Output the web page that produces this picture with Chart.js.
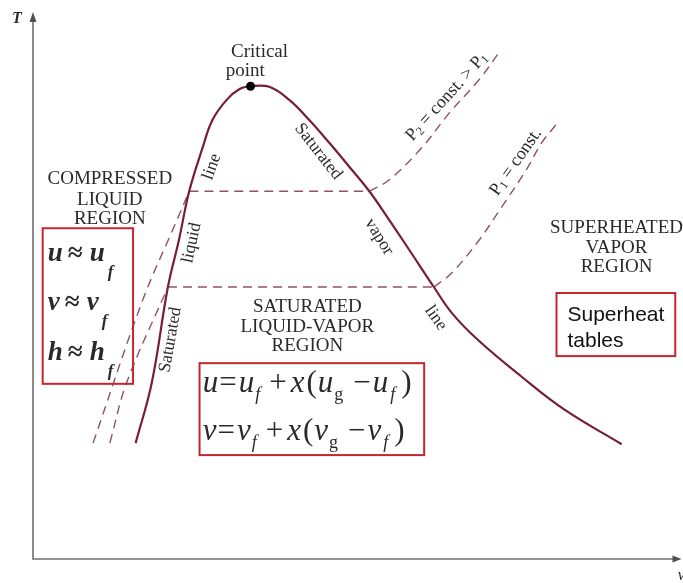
<!DOCTYPE html>
<html>
<head>
<meta charset="utf-8">
<script src="https://cdn.jsdelivr.net/npm/chart.js@4.4.0/dist/chart.umd.min.js"></script>
<style>
  html, body { margin: 0; padding: 0; background: #fff; }
</style>
</head>
<body>
<canvas id="tv" width="683" height="583"></canvas>
<script>
// T-v diagram, values (arbitrary 0-100 units on both axes)
const domeV = [15.9, 18.4, 20.9, 22.6, 24.2, 26.3, 27.8, 30.0, 32.0, 33.7, 36.6, 39.7, 42.8, 45.9, 49.0, 52.1, 55.2, 58.3, 62.1, 64.9, 68.9, 75.7, 82.4, 91.2];
const domeT = [21.3, 32.4, 50.0, 58.6, 67.6, 75.7, 80.7, 84.4, 86.4, 86.9, 86.8, 84.4, 80.7, 76.5, 72.1, 67.6, 62.3, 56.8, 50.0, 45.2, 40.3, 33.5, 27.4, 21.1];
const criticalV = [33.7];
const criticalT = [86.9];

// P2 = const. isobar (compressed liquid branch, superheated branch)
const p2LiqV = [9.3, 17.0, 22.3, 24.2];
const p2LiqT = [21.3, 47.6, 62.3, 67.6];
const p2VapV = [52.1, 55.2, 60.3, 64.5, 69.1, 72.5];
const p2VapT = [67.6, 69.7, 75.7, 82.0, 88.1, 93.6];

// P1 = const. isobar
const p1LiqV = [11.9, 14.5, 20.9];
const p1LiqT = [21.3, 32.4, 50.0];
const p1VapV = [62.1, 64.9, 69.1, 72.6, 76.4, 78.8, 81.0];
const p1VapT = [50.0, 52.6, 58.6, 64.7, 71.5, 76.5, 79.8];

const SERIF = '"Liberation Serif", "Times New Roman", serif';
const SANS = '"Liberation Sans", Arial, sans-serif';
const domeColor = '#761d3d';
const dashColor = '#92506a';
const boxColor = '#c4262e';
const textColor = '#2a2a2a';

const pts = (v, t) => v.map((x, i) => ({ x: x, y: t[i] }));

function dashed(data) {
  return {
    data: data, showLine: true, pointRadius: 0, borderColor: dashColor,
    borderWidth: 1.4, borderDash: [9, 6], tension: 0.35
  };
}

// rich text: [text, style, gap] with i = italic, r = roman, f = italic sub, g = roman sub
function fontFor(st, size, bold, subSize) {
  const sub = st === 'f' || st === 'g';
  const ital = st === 'i' || st === 'f';
  const s = sub ? subSize : size;
  return (ital ? 'italic ' : '') + (bold ? 'bold ' : '') + s + 'px ' + SERIF;
}
function richWidth(ctx, segs, size, bold, subSize) {
  let w = 0;
  segs.forEach(([t, st, gap]) => { ctx.font = fontFor(st, size, bold, subSize); w += (gap || 0) + ctx.measureText(t).width; });
  return w;
}
function drawRich(ctx, segs, x, y, size, bold, subSize, subDrop) {
  segs.forEach(([t, st, gap]) => {
    ctx.font = fontFor(st, size, bold, subSize);
    x += gap || 0;
    const dy = (st === 'f' || st === 'g') ? subDrop : 0;
    ctx.fillText(t, x, y + dy);
    x += ctx.measureText(t).width;
  });
}

const plainLabels = [
  { t: 'Critical', x: 35.1, y: 92.3 },
  { t: 'point', x: 32.9, y: 88.8 },
  { t: 'COMPRESSED', x: 11.9, y: 68.9 },
  { t: 'LIQUID', x: 11.9, y: 65.1 },
  { t: 'REGION', x: 11.9, y: 61.6 },
  { t: 'SATURATED', x: 42.5, y: 45.4 },
  { t: 'LIQUID-VAPOR', x: 42.5, y: 41.7 },
  { t: 'REGION', x: 42.5, y: 38.2 },
  { t: 'SUPERHEATED', x: 90.4, y: 59.9 },
  { t: 'VAPOR', x: 90.4, y: 56.25 },
  { t: 'REGION', x: 90.4, y: 52.8 }
];
const curveLabels = [
  { t: 'line', x: 27.7, y: 72.1, a: -70 },
  { t: 'liquid', x: 24.6, y: 58.1, a: -78 },
  { t: 'Saturated', x: 21.3, y: 40.3, a: -80 },
  { t: 'Saturated', x: 44.2, y: 74.9, a: 52 },
  { t: 'vapor', x: 53.6, y: 59.2, a: 58 },
  { t: 'line', x: 62.4, y: 44.3, a: 55 }
];
const isobarLabels = [
  { segs: [['P', 'r'], ['2', 'g'], [' = const. > ', 'r'], ['P', 'r'], ['1', 'g']], x: 64.1, y: 85.0, a: -48 },
  { segs: [['P', 'r'], ['1', 'g'], [' = const.', 'r']], x: 74.8, y: 73.0, a: -55 }
];

const decor = {
  id: 'decor',
  beforeDatasetsDraw(chart) {
    const { ctx, chartArea: ca } = chart;
    ctx.save();
    ctx.strokeStyle = '#707070';
    ctx.fillStyle = '#505050';
    ctx.lineWidth = 1.6;
    ctx.beginPath();
    ctx.moveTo(ca.left, ca.top + 4);
    ctx.lineTo(ca.left, ca.bottom);
    ctx.lineTo(ca.right - 2, ca.bottom);
    ctx.stroke();
    ctx.beginPath();
    ctx.moveTo(ca.left, ca.top - 3);
    ctx.lineTo(ca.left - 3.5, ca.top + 7);
    ctx.lineTo(ca.left + 3.5, ca.top + 7);
    ctx.closePath();
    ctx.fill();
    ctx.beginPath();
    ctx.moveTo(ca.right + 3, ca.bottom);
    ctx.lineTo(ca.right - 6, ca.bottom - 3.5);
    ctx.lineTo(ca.right - 6, ca.bottom + 3.5);
    ctx.closePath();
    ctx.fill();
    ctx.restore();
  },
  afterDatasetsDraw(chart) {
    const { ctx } = chart;
    const xs = chart.scales.x, ys = chart.scales.y;
    const X = v => xs.getPixelForValue(v), Y = v => ys.getPixelForValue(v);
    ctx.save();
    ctx.fillStyle = textColor;

    // axis letters
    ctx.textAlign = 'center';
    ctx.textBaseline = 'alphabetic';
    ctx.font = 'italic bold 16px ' + SERIF;
    ctx.fillText('T', X(-2.5), Y(98.5));
    ctx.textAlign = 'left';
    ctx.font = 'italic 16px ' + SERIF;
    ctx.fillText('v', X(99.9), Y(-3.8));

    // region names
    ctx.textAlign = 'center';
    ctx.font = '19px ' + SERIF;
    plainLabels.forEach(l => ctx.fillText(l.t, X(l.x), Y(l.y)));

    // labels along the curves
    ctx.textBaseline = 'middle';
    ctx.font = '17.5px ' + SERIF;
    curveLabels.forEach(l => {
      ctx.save();
      ctx.translate(X(l.x), Y(l.y));
      ctx.rotate(l.a * Math.PI / 180);
      ctx.fillText(l.t, 0, 0);
      ctx.restore();
    });
    ctx.textAlign = 'left';
    isobarLabels.forEach(l => {
      const w = richWidth(ctx, l.segs, 18, false, 12);
      ctx.save();
      ctx.translate(X(l.x), Y(l.y));
      ctx.rotate(l.a * Math.PI / 180);
      drawRich(ctx, l.segs, -w / 2, 0, 18, false, 12, 4);
      ctx.restore();
    });

    // boxes
    ctx.strokeStyle = boxColor;
    ctx.lineWidth = 2;
    const box = (x0, y0, x1, y1) => ctx.strokeRect(X(x0), Y(y0), X(x1) - X(x0), Y(y1) - Y(y0));
    box(1.5, 60.8, 15.5, 32.2);
    box(25.8, 36.0, 60.6, 19.1);
    box(81.1, 48.9, 99.5, 37.3);

    // compressed liquid approximations
    ctx.textBaseline = 'alphabetic';
    const approx = ['u', 'v', 'h'].map(s => [[s, 'i', 0], ['\u2248', 'r', 5], [s, 'i', 7], ['f', 'f', 3]]);
    [54.8, 45.8, 36.6].forEach((y, i) => drawRich(ctx, approx[i], X(2.3), Y(y), 27, true, 17, 16));

    // saturated mixture
    const mix = ['u', 'v'].map(s => [
      [s, 'i', 0], ['=', 'r', 1], [s, 'i', 2], ['f', 'f', 1], ['+', 'r', 9], ['x', 'i', 4], ['(', 'r', 2],
      [s, 'i', 1], ['g', 'g', 1], ['\u2212', 'r', 10], [s, 'i', 2], ['f', 'f', 2], [')', 'r', 6]
    ]);
    [30.7, 21.9].forEach((y, i) => drawRich(ctx, mix[i], X(26.3), Y(y), 31, false, 18, 8));

    // superheat tables note
    ctx.fillStyle = '#111';
    ctx.font = '21px ' + SANS;
    ctx.fillText('Superheat', X(82.8), Y(43.8));
    ctx.fillText('tables', X(82.8), Y(39.0));
    ctx.restore();
  }
};

new Chart(document.getElementById('tv'), {
  type: 'scatter',
  data: {
    datasets: [
      { data: pts(criticalV, criticalT), pointRadius: 4.5, backgroundColor: '#000', borderWidth: 0 },
      { data: pts(domeV, domeT), showLine: true, pointRadius: 0, borderColor: domeColor, borderWidth: 2.2, tension: 0.4 },
      dashed(pts(p2LiqV, p2LiqT)),
      dashed([{ x: p2LiqV[p2LiqV.length - 1], y: p2LiqT[p2LiqT.length - 1] }, { x: p2VapV[0], y: p2VapT[0] }]),
      dashed(pts(p2VapV, p2VapT)),
      dashed(pts(p1LiqV, p1LiqT)),
      dashed([{ x: p1LiqV[p1LiqV.length - 1], y: p1LiqT[p1LiqT.length - 1] }, { x: p1VapV[0], y: p1VapT[0] }]),
      dashed(pts(p1VapV, p1VapT))
    ]
  },
  options: {
    responsive: false,
    animation: false,
    devicePixelRatio: 1,
    layout: { padding: { left: 33, top: 15, right: 3, bottom: 24 } },
    scales: {
      x: { type: 'linear', min: 0, max: 100, display: false },
      y: { type: 'linear', min: 0, max: 100, display: false }
    },
    plugins: { legend: { display: false }, tooltip: { enabled: false } }
  },
  plugins: [decor]
});
</script>
</body>
</html>
